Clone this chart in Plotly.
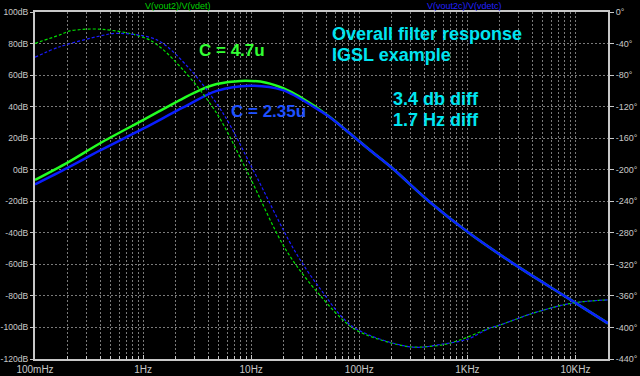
import plotly.graph_objects as go

# ---- data ----
freq_mag_green = [0.1, 0.2, 0.4, 1.0, 2.35, 3.35, 4.8, 8.0, 13.8, 20, 28, 53, 81, 125, 210, 337, 440, 1030, 2730, 7900, 20000]
mag_green_db   = [-6.5, 4.5, 16.8, 31.5, 45.3, 50.5, 54.3, 56.3, 55.2, 51.5, 46.3, 33.6, 23.3, 12.5, 0, -12.9, -20, -40, -60, -80, -97.4]

freq_mag_blue = [0.1, 0.2, 0.4, 1.0, 2.35, 4.8, 9.7, 19.6, 40, 53, 81, 125, 210, 337, 440, 1030, 2730, 7900, 20000]
mag_blue_db   = [-9.3, 1.2, 12.2, 26.0, 39.5, 50, 53.3, 50.5, 38.9, 33.4, 23.3, 12.5, 0, -12.9, -20, -40, -60, -80, -97.4]

freq_ph_green = [0.1, 0.17, 0.21, 0.42, 1.15, 2.35, 4.8, 9.0, 21, 43, 87, 178, 310, 590, 850, 1600, 2000, 4030, 9400, 20000]
ph_green_deg  = [-39.7, -29, -24, -22, -35.5, -73.5, -128.5, -200, -301.8, -358.8, -400.7, -418, -424.8, -422, -416, -401, -397, -382, -369, -365]

freq_ph_blue = [0.1, 0.17, 0.4, 0.57, 1.35, 2.75, 5.5, 10.4, 25, 43, 87, 310, 590, 1000, 1600, 2000, 4030, 9400, 20000]
ph_blue_deg  = [-57.4, -44, -30.4, -27, -35.5, -73.5, -128.5, -200, -301.8, -350, -399, -425, -421, -415, -401, -397, -382, -369, -365]

x_tick_vals = [0.1, 1, 10, 100, 1000, 10000]
x_tick_text = ["100mHz", "1Hz", "10Hz", "100Hz", "1KHz", "10KHz"]
db_ticks = list(range(-120, 101, 20))
db_text = [f"{v}dB" for v in db_ticks]
deg_ticks = list(range(-440, 1, 40))
deg_text = [f"{v}\u00b0" for v in deg_ticks]

GREEN = "#22ff22"
BLUE = "#0a1eff"
CYAN = "#00e4f0"
GRID = "#7a7a7a"
AXIS = "#c8c8c8"
TXT = "#c8c8c8"

fig = go.Figure()
fig.add_trace(go.Scatter(x=freq_ph_green, y=ph_green_deg, yaxis="y2", mode="lines",
                         line=dict(color="#00e000", width=1.2, dash="3px,2px", shape="spline", smoothing=0.9)))
fig.add_trace(go.Scatter(x=freq_ph_blue, y=ph_blue_deg, yaxis="y2", mode="lines",
                         line=dict(color="#1a1aff", width=1.2, dash="3px,2px", shape="spline", smoothing=0.9)))
fig.add_trace(go.Scatter(x=freq_mag_green, y=mag_green_db, mode="lines",
                         line=dict(color=GREEN, width=2.5, shape="spline", smoothing=0.9)))
fig.add_trace(go.Scatter(x=freq_mag_blue, y=mag_blue_db, mode="lines",
                         line=dict(color=BLUE, width=2.5, shape="spline", smoothing=0.9)))

minor_vals = [m * 10 ** e for e in range(-1, 5) for m in range(2, 10) if m * 10 ** e <= 20000]

fig.update_layout(
    width=640, height=376,
    margin=dict(l=35, r=32, t=12, b=17),
    paper_bgcolor="black", plot_bgcolor="black",
    showlegend=False,
    font=dict(family="Liberation Sans, Arial, sans-serif", size=10, color=TXT),
    xaxis=dict(type="log", range=[-1, 4.30103], tickmode="array", tickvals=x_tick_vals, ticktext=x_tick_text,
               automargin=False,
               showgrid=True, gridcolor=GRID, griddash="2px,2px", gridwidth=1,
               showline=True, linecolor=AXIS, linewidth=2, mirror=True,
               ticks="inside", ticklen=4, tickcolor=AXIS, zeroline=False,
               tickfont=dict(size=10, color=TXT),
               minor=dict(tickmode="array", tickvals=minor_vals, showgrid=True, gridcolor=GRID,
                          griddash="2px,2px", gridwidth=1, ticks="inside", ticklen=3, tickcolor=AXIS)),
    yaxis=dict(range=[-120, 100], tickmode="array", tickvals=db_ticks, ticktext=db_text,
               automargin=False,
               showgrid=True, gridcolor=GRID, griddash="2px,2px", gridwidth=1,
               showline=True, linecolor=AXIS, linewidth=2, mirror=True,
               ticks="outside", ticklen=3, tickcolor=AXIS, zeroline=False,
               tickfont=dict(size=8.6, color=TXT)),
    yaxis2=dict(range=[-440, 0], overlaying="y", side="right", tickmode="array", tickvals=deg_ticks,
                automargin=False,
                ticktext=deg_text, showgrid=False, showline=True, linecolor=AXIS, linewidth=2,
                ticks="outside", ticklen=4, tickcolor=AXIS, zeroline=False,
                tickfont=dict(size=9, color=TXT)),
)

def ann(text, x, y, color, size, xanchor="left", bold=True):
    fig.add_annotation(text=f"<b>{text}</b>" if bold else text, x=x, y=y, xref="paper", yref="paper",
                       xanchor=xanchor, yanchor="middle", showarrow=False,
                       font=dict(family="Liberation Sans, Arial, sans-serif", size=size, color=color))

ann("V(vout2)/V(vdet)", 0.2504, 1.0173, "#00d000", 9, "center", bold=False)
ann("V(vout2c)/V(vdetc)", 0.7496, 1.0173, "#2020ff", 9, "center", bold=False)
ann("C = 4.7u", 0.282, 0.889, "#33ff33", 17)
ann("C = 2.35u", 0.338, 0.7133, "#1e50ff", 17)
ann("Overall filter response", 0.514, 0.9366, CYAN, 18)
ann("IGSL example", 0.514, 0.8775, CYAN, 18)
ann("3.4 db diff", 0.622, 0.7507, CYAN, 18)
ann("1.7 Hz diff", 0.622, 0.6902, CYAN, 18)

fig.write_html("out.html", config={"displayModeBar": False},
               post_script="document.body.style.margin='0';document.body.style.padding='0';"
                           "document.body.style.background='black';document.body.style.overflow='hidden';")
